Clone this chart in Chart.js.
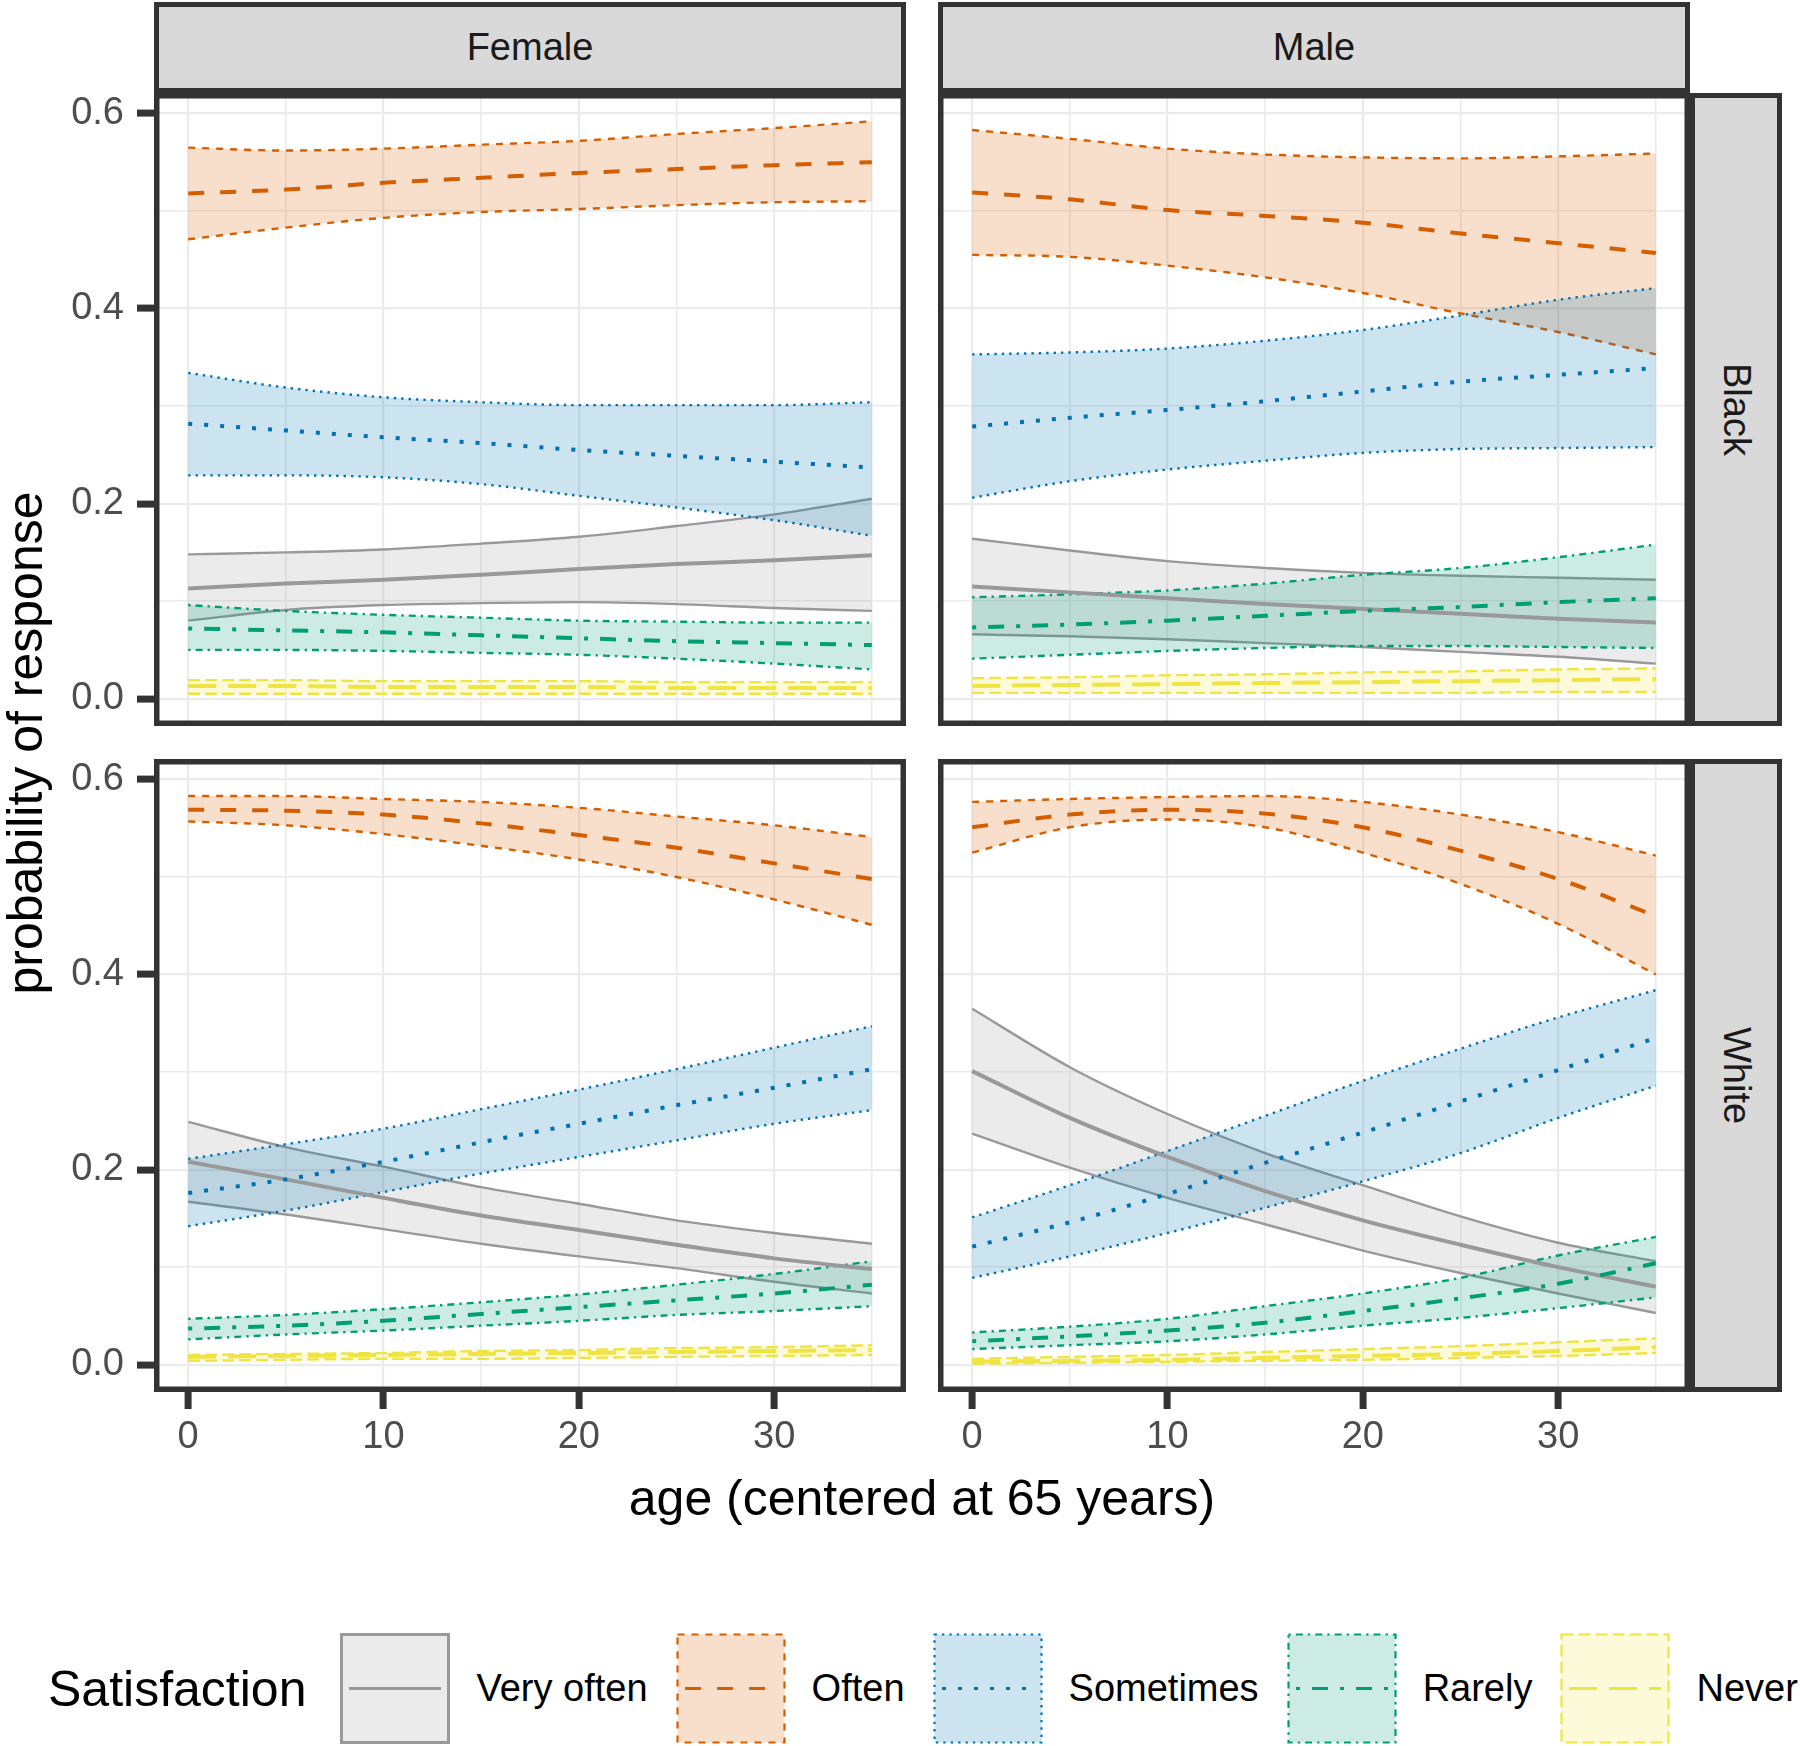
<!DOCTYPE html>
<html>
<head>
<meta charset="utf-8">
<title>Probability of response by age</title>
<script src="https://cdn.jsdelivr.net/npm/chart.js@4.4.1/dist/chart.umd.min.js"></script>
<style>
    body { margin: 0; background: #fff; width: 1800px; height: 1746px; position: relative; overflow: hidden; font-family: "Liberation Sans", Arial, sans-serif; }
    canvas { position: absolute; }
    .strip { position: absolute; box-sizing: border-box; background: #d9d9d9; border: 5px solid #333; color: #1a1a1a; font-size: 38px; display: flex; align-items: center; justify-content: center; }
    .strip.side span { writing-mode: vertical-rl; }
    .title { position: absolute; font-size: 50px; color: #000; white-space: nowrap; }
    #legend { position: absolute; left: 48px; top: 1633px; height: 111px; width: 1760px; display: flex; align-items: center; white-space: nowrap; }
    #legend > * { flex: 0 0 auto; }
    #legend .ltitle { font-size: 50px; margin-right: 34px; }
    #legend svg { margin-right: 26px; }
    #legend .lab { font-size: 38px; margin-right: 28px; color: #000; }
</style>
</head>
<body>
<div class="title" style="left: 25px; top: 743px; transform: translate(-50%, -50%) rotate(-90deg);">probability of response</div>
<div class="title" style="left: 922px; top: 1498px; transform: translate(-50%, -50%);">age (centered at 65 years)</div>
<div id="legend"><span class="ltitle">Satisfaction</span></div>

<script>
// x values and facet labels
const ages = [0, 5, 10, 15, 20, 25, 30, 35];
const categories = ['Very often', 'Often', 'Sometimes', 'Rarely', 'Never'];
const sexes = ['Female', 'Male'];
const races = ['Black', 'White'];

const xTickVals = [0, 5, 10, 15, 20, 25, 30, 35];
const xTickText = ['0', '', '10', '', '20', '', '30', ''];
const yTickVals = [0, 0.1, 0.2, 0.3, 0.4, 0.5, 0.6];
const yTickText = ['0.0', '', '0.2', '', '0.4', '', '0.6'];

// rows: Very often, Often, Sometimes, Rarely, Never
const femaleBlackFit = [
    [0.113, 0.118, 0.122, 0.127, 0.133, 0.138, 0.142, 0.147],
    [0.518, 0.522, 0.529, 0.534, 0.539, 0.543, 0.547, 0.550],
    [0.282, 0.275, 0.268, 0.262, 0.255, 0.249, 0.243, 0.237],
    [0.072, 0.070, 0.068, 0.065, 0.062, 0.059, 0.057, 0.055],
    [0.013, 0.013, 0.012, 0.012, 0.012, 0.011, 0.011, 0.011]
];
const femaleBlackLo = [
    [0.080, 0.091, 0.096, 0.098, 0.099, 0.097, 0.093, 0.090],
    [0.471, 0.483, 0.493, 0.499, 0.502, 0.506, 0.509, 0.510],
    [0.229, 0.229, 0.227, 0.220, 0.208, 0.196, 0.183, 0.167],
    [0.050, 0.050, 0.049, 0.047, 0.045, 0.041, 0.036, 0.030],
    [0.005, 0.005, 0.005, 0.005, 0.005, 0.005, 0.005, 0.005]
];
const femaleBlackHi = [
    [0.148, 0.150, 0.153, 0.159, 0.166, 0.177, 0.189, 0.205],
    [0.565, 0.562, 0.564, 0.568, 0.572, 0.579, 0.585, 0.592],
    [0.334, 0.319, 0.309, 0.304, 0.301, 0.301, 0.301, 0.304],
    [0.096, 0.090, 0.086, 0.083, 0.080, 0.079, 0.078, 0.078],
    [0.019, 0.019, 0.018, 0.018, 0.018, 0.017, 0.017, 0.017]
];

const maleBlackFit = [
    [0.115, 0.109, 0.103, 0.097, 0.092, 0.087, 0.082, 0.078],
    [0.519, 0.512, 0.501, 0.495, 0.488, 0.477, 0.467, 0.457],
    [0.279, 0.288, 0.296, 0.305, 0.315, 0.325, 0.332, 0.339],
    [0.073, 0.076, 0.080, 0.085, 0.090, 0.094, 0.099, 0.103],
    [0.013, 0.014, 0.015, 0.016, 0.017, 0.018, 0.019, 0.020]
];
const maleBlackLo = [
    [0.066, 0.064, 0.061, 0.057, 0.053, 0.048, 0.043, 0.036],
    [0.455, 0.453, 0.444, 0.432, 0.416, 0.395, 0.376, 0.353],
    [0.206, 0.223, 0.235, 0.244, 0.252, 0.256, 0.257, 0.258],
    [0.041, 0.045, 0.049, 0.052, 0.054, 0.054, 0.053, 0.052],
    [0.006, 0.006, 0.006, 0.006, 0.006, 0.006, 0.007, 0.007]
];
const maleBlackHi = [
    [0.164, 0.152, 0.141, 0.134, 0.129, 0.126, 0.124, 0.122],
    [0.583, 0.574, 0.564, 0.558, 0.555, 0.554, 0.556, 0.559],
    [0.353, 0.355, 0.359, 0.367, 0.378, 0.393, 0.409, 0.421],
    [0.104, 0.107, 0.111, 0.118, 0.127, 0.134, 0.145, 0.158],
    [0.021, 0.022, 0.024, 0.025, 0.027, 0.028, 0.030, 0.031]
];

const femaleWhiteFit = [
    [0.208, 0.190, 0.171, 0.153, 0.138, 0.123, 0.109, 0.098],
    [0.569, 0.568, 0.564, 0.555, 0.543, 0.530, 0.514, 0.498],
    [0.176, 0.190, 0.208, 0.228, 0.247, 0.266, 0.284, 0.303],
    [0.037, 0.040, 0.045, 0.052, 0.059, 0.066, 0.073, 0.082],
    [0.008, 0.009, 0.010, 0.011, 0.012, 0.013, 0.014, 0.015]
];
const femaleWhiteLo = [
    [0.167, 0.154, 0.139, 0.124, 0.111, 0.099, 0.085, 0.073],
    [0.557, 0.553, 0.544, 0.532, 0.518, 0.500, 0.477, 0.451],
    [0.142, 0.158, 0.177, 0.196, 0.213, 0.230, 0.247, 0.261],
    [0.026, 0.031, 0.035, 0.040, 0.045, 0.051, 0.055, 0.060],
    [0.004, 0.005, 0.006, 0.006, 0.007, 0.008, 0.009, 0.010]
];
const femaleWhiteHi = [
    [0.249, 0.223, 0.203, 0.182, 0.165, 0.148, 0.135, 0.124],
    [0.583, 0.583, 0.580, 0.577, 0.571, 0.562, 0.553, 0.541],
    [0.211, 0.226, 0.242, 0.262, 0.282, 0.303, 0.325, 0.347],
    [0.047, 0.051, 0.057, 0.064, 0.072, 0.082, 0.093, 0.106],
    [0.010, 0.011, 0.012, 0.014, 0.015, 0.017, 0.018, 0.020]
];

const maleWhiteFit = [
    [0.301, 0.253, 0.213, 0.178, 0.148, 0.123, 0.100, 0.080],
    [0.551, 0.564, 0.569, 0.565, 0.551, 0.527, 0.498, 0.460],
    [0.121, 0.146, 0.175, 0.207, 0.238, 0.270, 0.302, 0.335],
    [0.024, 0.029, 0.035, 0.043, 0.055, 0.068, 0.083, 0.104],
    [0.003, 0.004, 0.005, 0.007, 0.009, 0.011, 0.014, 0.018]
];
const maleWhiteLo = [
    [0.237, 0.202, 0.171, 0.144, 0.117, 0.094, 0.073, 0.053],
    [0.525, 0.551, 0.559, 0.551, 0.525, 0.493, 0.452, 0.400],
    [0.089, 0.111, 0.135, 0.161, 0.188, 0.217, 0.253, 0.286],
    [0.016, 0.020, 0.024, 0.031, 0.040, 0.048, 0.058, 0.069],
    [0.001, 0.002, 0.003, 0.004, 0.005, 0.007, 0.009, 0.012]
];
const maleWhiteHi = [
    [0.365, 0.305, 0.257, 0.217, 0.184, 0.152, 0.125, 0.106],
    [0.577, 0.580, 0.582, 0.583, 0.577, 0.564, 0.546, 0.522],
    [0.151, 0.184, 0.219, 0.255, 0.291, 0.324, 0.356, 0.384],
    [0.033, 0.039, 0.047, 0.060, 0.073, 0.089, 0.112, 0.131],
    [0.006, 0.008, 0.010, 0.013, 0.016, 0.019, 0.023, 0.027]
];

// styles per category
const lineColors = ['#999999', '#D55E00', '#0072B2', '#009E73', '#F0E442'];
const fillColors = ['rgba(153,153,153,0.2)', 'rgba(213,94,0,0.2)', 'rgba(0,114,178,0.2)', 'rgba(0,158,115,0.2)', 'rgba(240,228,66,0.2)'];
const lineDash = [[], [16, 16], [4, 12], [4, 12, 16, 12], [28, 12]];
const edgeDash = [[], [7, 7], [2.4, 5], [2.4, 5, 7, 5], [12, 5]];

// facet layout (px)
const colLeft = [154, 938];
const rowTop = [93, 759];
const PW = 752, PH = 633;
const ML = 140, MR = 20, MT = 50, MB = 70;

const panelBorder = {
    id: 'panelBorder',
    afterDraw(chart) {
        const { ctx, chartArea: a } = chart;
        ctx.save();
        ctx.strokeStyle = '#333333';
        ctx.lineWidth = 5.5;
        ctx.strokeRect(a.left + 2.75, a.top + 2.75, a.width - 5.5, a.height - 5.5);
        ctx.restore();
    }
};

const tickFont = { family: 'Liberation Sans', size: 38 };

function makePanel(p) {
    const canvas = document.createElement('canvas');
    canvas.width = PW + ML + MR;
    canvas.height = PH + MT + MB;
    canvas.style.left = (colLeft[p.col] - ML) + 'px';
    canvas.style.top = (rowTop[p.row] - MT) + 'px';
    document.body.appendChild(canvas);

    const pts = arr => ages.map((a, i) => ({ x: a, y: arr[i] }));
    const datasets = [];

    // ribbons first (drawn under the lines)
    categories.forEach((name, k) => {
        const edge = {
            borderColor: lineColors[k], borderWidth: 2.4, borderDash: edgeDash[k],
            pointRadius: 0, cubicInterpolationMode: 'monotone', order: 20 - k
        };
        datasets.push({ ...edge, label: name + ' lower', data: pts(p.lo[k]), fill: false });
        datasets.push({ ...edge, label: name + ' upper', data: pts(p.hi[k]), fill: '-1', backgroundColor: fillColors[k] });
    });
    categories.forEach((name, k) => {
        datasets.push({
            label: name, data: pts(p.fit[k]), fill: false,
            borderColor: lineColors[k], borderWidth: 4, borderDash: lineDash[k],
            pointRadius: 0, cubicInterpolationMode: 'monotone', order: 5 - k
        });
    });

    const showY = p.col === 0;
    const showX = p.row === 1;

    new Chart(canvas, {
        type: 'line',
        data: { datasets },
        options: {
            responsive: false,
            animation: false,
            events: [],
            layout: { padding: { left: 0, right: MR, top: MT, bottom: 0 } },
            plugins: { legend: { display: false }, tooltip: { enabled: false } },
            scales: {
                x: {
                    type: 'linear', min: -1.75, max: 36.75,
                    afterBuildTicks: s => { s.ticks = xTickVals.map(v => ({ value: v })); },
                    afterFit: s => { s.height = MB; },
                    border: { display: false },
                    grid: {
                        color: '#ebebeb',
                        lineWidth: c => xTickText[c.index] !== '' ? 2.2 : 1.6,
                        drawTicks: showX, tickLength: 17, tickWidth: 7,
                        tickColor: c => xTickText[c.index] !== '' ? '#333333' : 'rgba(0,0,0,0)'
                    },
                    ticks: {
                        display: showX, autoSkip: false, maxRotation: 0, padding: 6,
                        color: '#4d4d4d', font: tickFont,
                        callback: (v, i) => xTickText[i]
                    }
                },
                y: {
                    type: 'linear', min: -0.028, max: 0.621,
                    afterBuildTicks: s => { s.ticks = yTickVals.map(v => ({ value: v })); },
                    afterFit: s => { s.width = ML; },
                    border: { display: false },
                    grid: {
                        color: '#ebebeb',
                        lineWidth: c => yTickText[c.index] !== '' ? 2.2 : 1.6,
                        drawTicks: showY, tickLength: 17, tickWidth: 7,
                        tickColor: c => yTickText[c.index] !== '' ? '#333333' : 'rgba(0,0,0,0)'
                    },
                    ticks: {
                        display: showY, padding: 13,
                        color: '#4d4d4d', font: tickFont,
                        callback: (v, i) => yTickText[i]
                    }
                }
            }
        },
        plugins: [panelBorder]
    });
}

const panels = [
    { row: 0, col: 0, lo: femaleBlackLo, fit: femaleBlackFit, hi: femaleBlackHi },
    { row: 0, col: 1, lo: maleBlackLo, fit: maleBlackFit, hi: maleBlackHi },
    { row: 1, col: 0, lo: femaleWhiteLo, fit: femaleWhiteFit, hi: femaleWhiteHi },
    { row: 1, col: 1, lo: maleWhiteLo, fit: maleWhiteFit, hi: maleWhiteHi }
];
panels.forEach(makePanel);

// facet strips
sexes.forEach((s, c) => {
    const d = document.createElement('div');
    d.className = 'strip';
    d.style.left = colLeft[c] + 'px';
    d.style.top = '2px';
    d.style.width = PW + 'px';
    d.style.height = (rowTop[0] - 2) + 'px';
    d.textContent = s;
    document.body.appendChild(d);
});
races.forEach((r, i) => {
    const d = document.createElement('div');
    d.className = 'strip side';
    d.style.left = (colLeft[1] + PW) + 'px';
    d.style.top = rowTop[i] + 'px';
    d.style.width = '92px';
    d.style.height = PH + 'px';
    d.innerHTML = '<span>' + r + '</span>';
    document.body.appendChild(d);
});

// legend keys
const legend = document.getElementById('legend');
categories.forEach((name, k) => {
    const key = `<svg width="110" height="111" xmlns="http://www.w3.org/2000/svg">
        <rect x="1.5" y="1.5" width="107" height="108" fill="${fillColors[k]}" stroke="${lineColors[k]}" stroke-width="${k === 0 ? 3 : 2.2}" stroke-dasharray="${edgeDash[k].join(' ')}"/>
        <line x1="9" y1="55.5" x2="101" y2="55.5" stroke="${lineColors[k]}" stroke-width="3.2" stroke-dasharray="${lineDash[k].join(' ')}"/>
    </svg>`;
    legend.insertAdjacentHTML('beforeend', key + '<span class="lab">' + name + '</span>');
});
</script>
</body>
</html>
